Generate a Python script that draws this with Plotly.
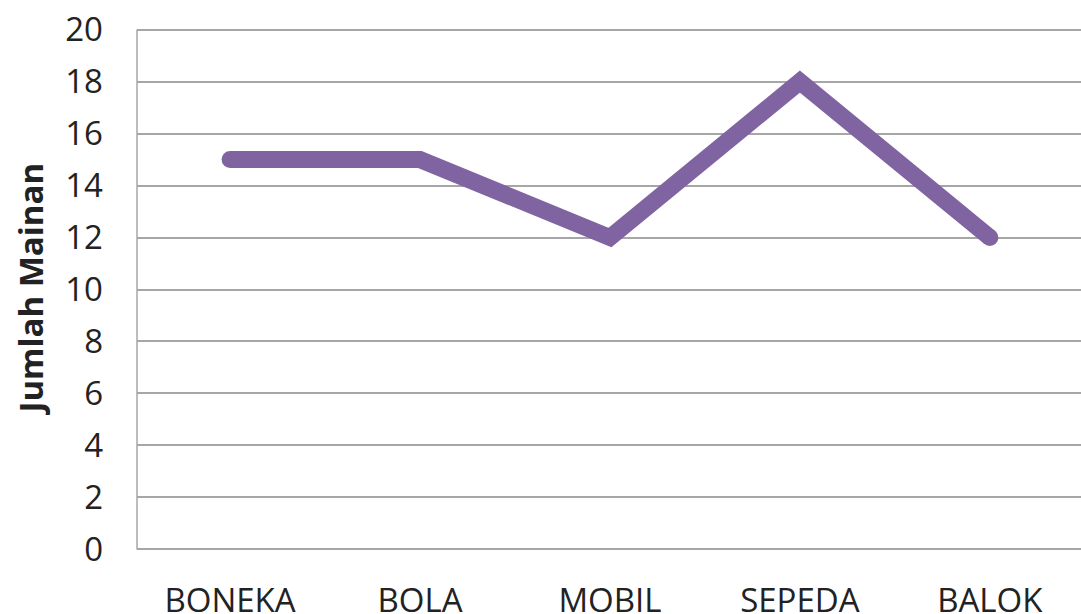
import plotly.graph_objects as go

categories = ["BONEKA", "BOLA", "MOBIL", "SEPEDA", "BALOK"]
values = [15, 15, 12, 18, 12]
y_ticks = [0, 2, 4, 6, 8, 10, 12, 14, 16, 18, 20]

line_color = "#8064A2"
end_sizes = [17 if i in (0, len(values) - 1) else 0 for i in range(len(values))]

fig = go.Figure()
fig.add_trace(go.Scatter(
    x=categories, y=values, mode="lines+markers",
    line=dict(color=line_color, width=17),
    marker=dict(color=line_color, size=end_sizes, opacity=1, line=dict(width=0)),
    hoverinfo="skip", showlegend=False,
))

font_family = "Open Sans, Liberation Sans, sans-serif"
fig.update_layout(
    width=1081, height=614,
    margin=dict(l=137, r=0, t=27, b=62),
    paper_bgcolor="white", plot_bgcolor="white",
    font=dict(family=font_family, color="#222222"),
    xaxis=dict(
        type="category", range=[-0.49, 4.48],
        showgrid=False, showline=False, zeroline=False,
        ticks="", tickfont=dict(size=33, color="#222222"),
        ticklabelstandoff=26, automargin=False,
    ),
    yaxis=dict(
        range=[-0.1, 20.1], tickvals=y_ticks,
        showgrid=True, gridcolor="#A6A6A6", gridwidth=1.5,
        showline=False, zeroline=False, ticks="",
        tickfont=dict(size=33, color="#222222"),
        ticklabelstandoff=33, automargin=False,
    ),
    shapes=[dict(
        type="line", xref="paper", yref="y", x0=0, x1=0, y0=0, y1=20,
        line=dict(color="#A6A6A6", width=1.5),
    )],
    annotations=[dict(
        text="<b>Jumlah Mainan</b>", textangle=-90,
        xref="paper", yref="paper", x=-0.1133, y=0.5,
        xanchor="center", yanchor="middle", showarrow=False,
        font=dict(size=33, color="#222222", family=font_family),
    )],
)

fig.write_html(
    "out.html",
    config={"displayModeBar": False},
    post_script="document.body.style.margin='0';document.body.style.overflow='hidden';",
)
